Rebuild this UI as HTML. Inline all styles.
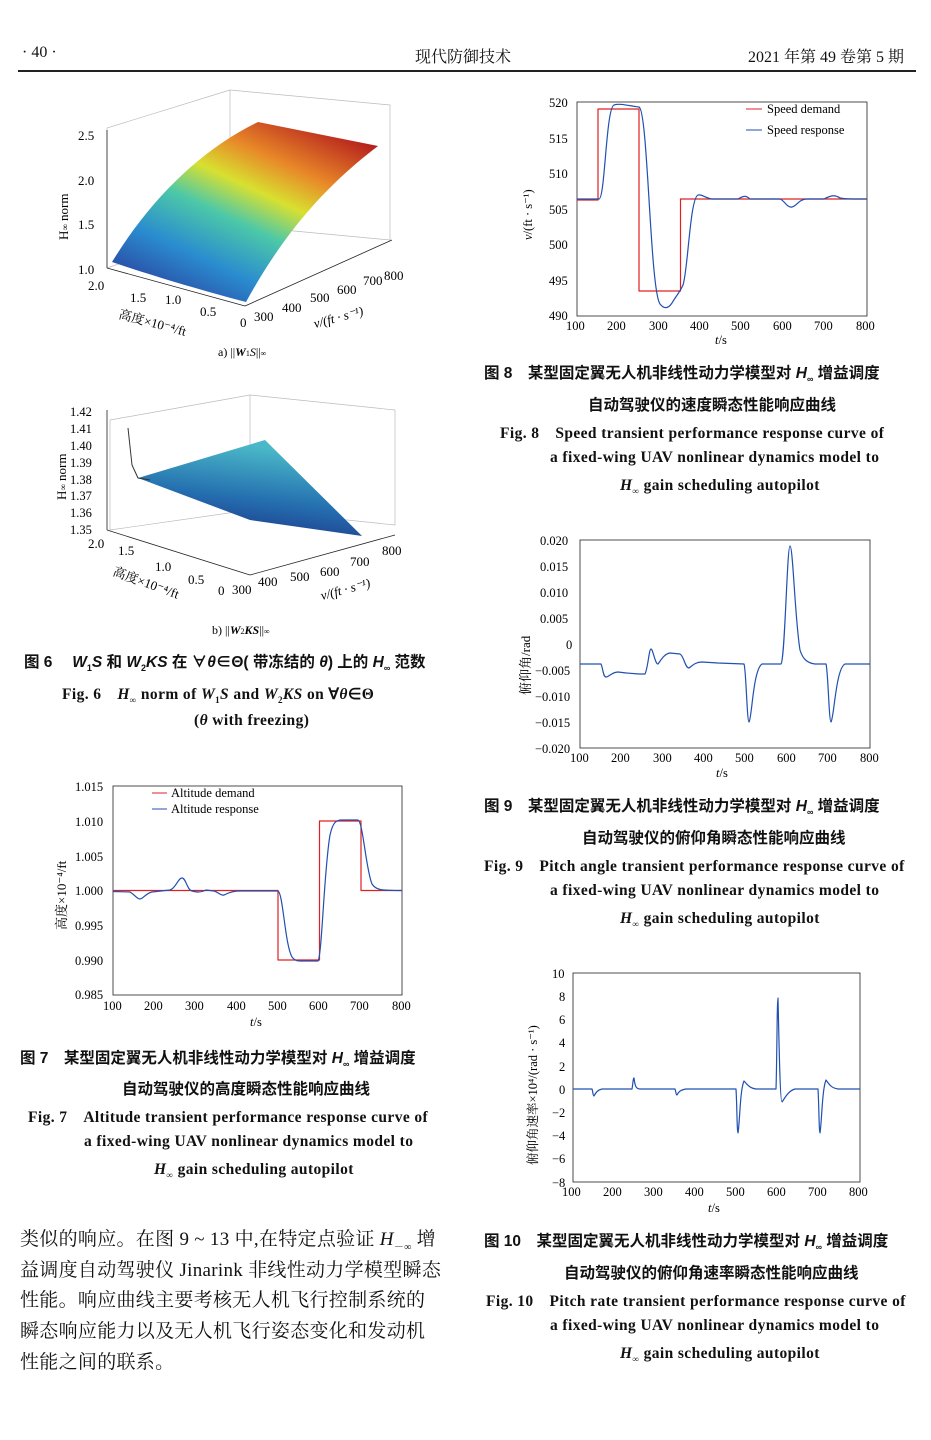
<!DOCTYPE html>
<html><head><meta charset="utf-8">
<style>
body{margin:0;background:#fff;width:931px;height:1440px;position:relative;overflow:hidden;font-family:"Liberation Serif","Noto Serif CJK SC",serif;color:#111}
.t{position:absolute;white-space:nowrap}
.cz{font-family:"Liberation Sans","Noto Sans CJK SC",sans-serif;font-size:15.5px;font-weight:bold}
.ce{font-family:"Liberation Serif",serif;font-size:15.5px;font-weight:bold;letter-spacing:0.4px}
.bd{font-family:"Liberation Serif","Noto Serif CJK SC",serif;font-size:19px;letter-spacing:0.3px}
svg text{font-family:"Liberation Serif","Noto Serif CJK SC",serif}
svg path{stroke-linejoin:round}
</style></head><body>
<div class="t" style="left:22px;top:44px;font-size:16px">· 40 ·</div>
<div class="t" style="left:415px;top:44px;font-size:16px">现代防御技术</div>
<div class="t" style="left:748px;top:44px;font-size:16px">2021 年第 49 卷第 5 期</div>
<div style="position:absolute;left:18px;top:70px;width:898px;border-top:2px solid #222"></div>

<svg width="931" height="1440" style="position:absolute;left:0;top:0" font-size="13">
<defs>
<linearGradient id="g1" x1="0.15" y1="1" x2="0.85" y2="0">
<stop offset="0" stop-color="#2a3a9a"/><stop offset="0.25" stop-color="#2a8ccf"/><stop offset="0.45" stop-color="#4cc8a8"/><stop offset="0.6" stop-color="#d8e030"/><stop offset="0.75" stop-color="#e88828"/><stop offset="1" stop-color="#b0141c"/></linearGradient>
<linearGradient id="g2" x1="0" y1="1" x2="0.3" y2="0">
<stop offset="0" stop-color="#1a2a80"/><stop offset="0.5" stop-color="#2570b0"/><stop offset="1" stop-color="#4ab8c8"/></linearGradient>
</defs>
<!-- Fig 6a -->
<g stroke="#bbb" stroke-width="0.7" fill="none">
<path d="M107,128 L230,90 L390,105 L390,240 L230,225 L107,268 Z"/>
<path d="M230,90 L230,225"/>
</g>
<path d="M112,262 C150,200 200,150 258,122 L378,146 C320,190 280,240 246,302 C200,290 150,275 112,262 Z" fill="url(#g1)"/>
<g stroke="#222" stroke-width="0.8" fill="none"><path d="M107,130 L107,268 M107,268 L245,306 L392,240"/></g>
<text x="78" y="140" font-size="13">2.5</text><text x="78" y="185">2.0</text><text x="78" y="229">1.5</text><text x="78" y="274">1.0</text>
<text x="68" y="240" transform="rotate(-90 68 240)" font-size="13">H<tspan font-size="9">∞</tspan> norm</text>
<text x="88" y="290">2.0</text><text x="130" y="302">1.5</text><text x="165" y="304">1.0</text><text x="200" y="316">0.5</text><text x="240" y="327">0</text>
<text x="254" y="321">300</text><text x="282" y="312">400</text><text x="310" y="302">500</text><text x="337" y="294">600</text><text x="363" y="285">700</text><text x="384" y="280">800</text>
<text x="118" y="318" transform="rotate(15 118 318)">高度×10⁻⁴/ft</text>
<text x="315" y="328" transform="rotate(-15 315 328)" font-style="italic">v/(ft · s⁻¹)</text>
<text x="218" y="356" font-size="12">a) ||<tspan font-weight="bold" font-style="italic">W</tspan><tspan font-size="8">1</tspan><tspan font-style="italic">S</tspan>||<tspan font-size="8">∞</tspan></text>
<!-- Fig 6b -->
<g stroke="#bbb" stroke-width="0.7" fill="none">
<path d="M110,420 L250,395 L395,410 L395,525 L250,510 L110,530 Z"/>
<path d="M250,395 L250,510"/>
</g>
<polygon points="138,478 265,440 362,536 250,520" fill="url(#g2)"/>
<path d="M128,428 L132,465 L138,478 L150,480" stroke="#333" fill="none"/>
<g stroke="#222" stroke-width="0.8" fill="none"><path d="M107,410 L107,530 M107,530 L250,575 L395,535"/></g>
<g font-size="12.5"><text x="70" y="416">1.42</text><text x="70" y="433">1.41</text><text x="70" y="450">1.40</text><text x="70" y="467">1.39</text><text x="70" y="484">1.38</text><text x="70" y="500">1.37</text><text x="70" y="517">1.36</text><text x="70" y="534">1.35</text></g>
<text x="66" y="500" transform="rotate(-90 66 500)">H<tspan font-size="9">∞</tspan> norm</text>
<text x="88" y="548">2.0</text><text x="118" y="555">1.5</text><text x="155" y="571">1.0</text><text x="188" y="584">0.5</text><text x="218" y="595">0</text>
<text x="232" y="594">300</text><text x="258" y="586">400</text><text x="290" y="581">500</text><text x="320" y="576">600</text><text x="350" y="566">700</text><text x="382" y="555">800</text>
<text x="112" y="575" transform="rotate(20 112 575)">高度×10⁻⁴/ft</text>
<text x="322" y="600" transform="rotate(-15 322 600)" font-style="italic">v/(ft · s⁻¹)</text>
<text x="212" y="634" font-size="12">b) ||<tspan font-weight="bold" font-style="italic">W</tspan><tspan font-size="8">2</tspan><tspan font-weight="bold" font-style="italic">KS</tspan>||<tspan font-size="8">∞</tspan></text>

<!-- Fig 7 -->
<rect x="113" y="786" width="289" height="209" fill="none" stroke="#222" stroke-width="0.8"/>
<g font-size="12.5">
<text x="75" y="791">1.015</text><text x="75" y="826">1.010</text><text x="75" y="861">1.005</text><text x="75" y="895">1.000</text><text x="75" y="930">0.995</text><text x="75" y="965">0.990</text><text x="75" y="999">0.985</text>
<text x="103" y="1010">100</text><text x="144" y="1010">200</text><text x="185" y="1010">300</text><text x="227" y="1010">400</text><text x="268" y="1010">500</text><text x="309" y="1010">600</text><text x="350" y="1010">700</text><text x="392" y="1010">800</text>
<text x="250" y="1026" font-style="italic">t<tspan font-style="normal">/s</tspan></text>
</g>
<text x="66" y="930" transform="rotate(-90 66 930)" font-size="13">高度×10⁻⁴/ft</text>
<path d="M113,890.5 H278 V960 H319.5 V821 H361 V890.5 H402" stroke="#e02020" fill="none" stroke-width="1.2"/>
<path d="M113,891.5 L130,892 C135,895 137,899 140,899 C143,899 146,893 152,892 L170,890 C176,888 178,878 182,878 C186,878 187,890 192,891 C196,892 200,893 206,890 L214,891 C218,892 221,896 224,895 C227,894 230,891 240,891 L278,891 C283,893 285,945 292,957 C295,961 298,961 302,961 L318,961 C322,955 324,870 330,835 C333,822 336,820 342,820 L358,820 C363,822 366,870 372,884 C376,890 380,890.5 402,890.5" stroke="#2050b0" fill="none" stroke-width="1.2"/>
<line x1="152" y1="793" x2="167" y2="793" stroke="#e02020"/><text x="171" y="797" font-size="12.5">Altitude demand</text>
<line x1="152" y1="809" x2="167" y2="809" stroke="#2050b0"/><text x="171" y="813" font-size="12.5">Altitude response</text>

<!-- Fig 8 -->
<rect x="577" y="102" width="290" height="214" fill="none" stroke="#222" stroke-width="0.8"/>
<g font-size="12.5">
<text x="549" y="107">520</text><text x="549" y="143">515</text><text x="549" y="178">510</text><text x="549" y="214">505</text><text x="549" y="249">500</text><text x="549" y="285">495</text><text x="549" y="320">490</text>
<text x="566" y="330">100</text><text x="607" y="330">200</text><text x="649" y="330">300</text><text x="690" y="330">400</text><text x="731" y="330">500</text><text x="773" y="330">600</text><text x="814" y="330">700</text><text x="856" y="330">800</text>
<text x="715" y="344" font-style="italic">t<tspan font-style="normal">/s</tspan></text>
</g>
<text x="532" y="240" transform="rotate(-90 532 240)" font-size="12.5"><tspan font-style="italic">v</tspan>/(ft · s⁻¹)</text>
<path d="M577,200 H598 V109 H639 V291 H680.5 V199 H867" stroke="#e02020" fill="none" stroke-width="1.2"/>
<path d="M577,199 L599,199 C605,199 606,108 614,105 C620,103 630,106 639,107 C648,110 650,290 660,304 C664,309 668,309 672,303 C676,296 680,292 683,285 C688,270 690,198 698,195 C702,194 705,198 712,199 L738,199 C743,196 746,195 750,199 L780,199 C785,201 787,208 792,207 C797,206 798,200 806,199 L824,199 C830,196 834,194 840,198 C844,199 850,199 867,199" stroke="#2050b0" fill="none" stroke-width="1.2"/>
<line x1="746" y1="109" x2="762" y2="109" stroke="#e02020"/><text x="767" y="113" font-size="12.5">Speed demand</text>
<line x1="746" y1="130" x2="762" y2="130" stroke="#2050b0"/><text x="767" y="134" font-size="12.5">Speed response</text>

<!-- Fig 9 -->
<rect x="580" y="540" width="290" height="208" fill="none" stroke="#222" stroke-width="0.8"/>
<g font-size="12.5">
<text x="540" y="545">0.020</text><text x="540" y="571">0.015</text><text x="540" y="597">0.010</text><text x="540" y="623">0.005</text><text x="566" y="649">0</text><text x="535" y="675">−0.005</text><text x="535" y="701">−0.010</text><text x="535" y="727">−0.015</text><text x="535" y="753">−0.020</text>
<text x="570" y="762">100</text><text x="611" y="762">200</text><text x="653" y="762">300</text><text x="694" y="762">400</text><text x="735" y="762">500</text><text x="777" y="762">600</text><text x="818" y="762">700</text><text x="860" y="762">800</text>
<text x="716" y="777" font-style="italic">t<tspan font-style="normal">/s</tspan></text>
</g>
<text x="530" y="695" transform="rotate(-90 530 695)" font-size="13">俯仰角/rad</text>
<path d="M580,664 L601,664 C603,668 603,677 606,677 C609,677 612,672 618,672 C625,673 635,674 645,674 C648,668 649,649 651,649 C653,649 655,664 658,664 C661,660 664,654 670,653 L680,654 C684,656 685,668 689,668 C692,666 695,662 702,662 L718,663 L744,664 C746,668 747,722 749,722 C752,718 753,670 762,664 L781,664 C785,660 787,546 790,546 C793,546 795,620 800,650 C803,660 808,663 815,664 L826,664 C828,670 829,722 831,722 C834,718 836,668 845,664 L870,664" stroke="#2050b0" fill="none" stroke-width="1.2"/>

<!-- Fig 10 -->
<rect x="573" y="973" width="287" height="209" fill="none" stroke="#222" stroke-width="0.8"/>
<g font-size="12.5">
<text x="552" y="978">10</text><text x="559" y="1001">8</text><text x="559" y="1024">6</text><text x="559" y="1047">4</text><text x="559" y="1071">2</text><text x="559" y="1094">0</text><text x="552" y="1117">−2</text><text x="552" y="1140">−4</text><text x="552" y="1163">−6</text><text x="552" y="1187">−8</text>
<text x="562" y="1196">100</text><text x="603" y="1196">200</text><text x="644" y="1196">300</text><text x="685" y="1196">400</text><text x="726" y="1196">500</text><text x="767" y="1196">600</text><text x="808" y="1196">700</text><text x="849" y="1196">800</text>
<text x="708" y="1212" font-style="italic">t<tspan font-style="normal">/s</tspan></text>
</g>
<text x="537" y="1165" transform="rotate(-90 537 1165)" font-size="12.5">俯仰角速率×10⁴/(rad · s⁻¹)</text>
<path d="M573,1089 L592,1089 C593,1092 593,1096 594,1096 C596,1092 598,1090 602,1089 L632,1089 C633,1084 633,1078 634,1078 C635,1086 636,1089 640,1089 L675,1089 C676,1092 676,1095 677,1095 C679,1091 681,1090 686,1089 L736,1089 C737,1105 737,1133 738,1133 C740,1120 740,1090 744,1081 C747,1084 749,1088 756,1089 L776,1089 C777,1060 777,998 778,998 C779,1040 780,1102 782,1102 C785,1098 788,1091 795,1089 L818,1089 C819,1105 819,1133 820,1133 C822,1120 822,1090 826,1080 C829,1084 831,1088 838,1089 L860,1089" stroke="#2050b0" fill="none" stroke-width="1.2"/>
</svg>

<div class="t cz" style="left:24px;top:650px">图 6　 <i>W</i><sub style="font-size:9px">1</sub><i>S</i> 和 <i>W</i><sub style="font-size:9px">2</sub><i>KS</i> 在 ∀<i>θ</i>∈Θ( 带冻结的 <i>θ</i>) 上的 <i>H</i><sub style="font-size:9px">∞</sub> 范数</div>
<div class="t ce" style="left:62px;top:682px">Fig. 6　<i>H</i><sub style="font-size:9px">∞</sub> norm of <i>W</i><sub style="font-size:9px">1</sub><i>S</i> and <i>W</i><sub style="font-size:9px">2</sub><i>KS</i> on ∀<i>θ</i>∈Θ</div>
<div class="t ce" style="left:194px;top:712px">(<i>θ</i> with freezing)</div>

<div class="t cz" style="left:20px;top:1046px">图 7　某型固定翼无人机非线性动力学模型对 <i>H</i><sub style="font-size:9px">∞</sub> 增益调度</div>
<div class="t cz" style="left:122px;top:1077px">自动驾驶仪的高度瞬态性能响应曲线</div>
<div class="t ce" style="left:28px;top:1105px">Fig. 7　Altitude transient performance response curve of</div>
<div class="t ce" style="left:84px;top:1133px">a fixed-wing UAV nonlinear dynamics model to</div>
<div class="t ce" style="left:154px;top:1161px"><i>H</i><sub style="font-size:9px">∞</sub> gain scheduling autopilot</div>

<div class="t cz" style="left:484px;top:361px">图 8　某型固定翼无人机非线性动力学模型对 <i>H</i><sub style="font-size:9px">∞</sub> 增益调度</div>
<div class="t cz" style="left:588px;top:393px">自动驾驶仪的速度瞬态性能响应曲线</div>
<div class="t ce" style="left:500px;top:421px">Fig. 8　Speed transient performance response curve of</div>
<div class="t ce" style="left:550px;top:449px">a fixed-wing UAV nonlinear dynamics model to</div>
<div class="t ce" style="left:620px;top:477px"><i>H</i><sub style="font-size:9px">∞</sub> gain scheduling autopilot</div>

<div class="t cz" style="left:484px;top:794px">图 9　某型固定翼无人机非线性动力学模型对 <i>H</i><sub style="font-size:9px">∞</sub> 增益调度</div>
<div class="t cz" style="left:582px;top:826px">自动驾驶仪的俯仰角瞬态性能响应曲线</div>
<div class="t ce" style="left:484px;top:854px">Fig. 9　Pitch angle transient performance response curve of</div>
<div class="t ce" style="left:550px;top:882px">a fixed-wing UAV nonlinear dynamics model to</div>
<div class="t ce" style="left:620px;top:910px"><i>H</i><sub style="font-size:9px">∞</sub> gain scheduling autopilot</div>

<div class="t cz" style="left:484px;top:1229px">图 10　某型固定翼无人机非线性动力学模型对 <i>H</i><sub style="font-size:9px">∞</sub> 增益调度</div>
<div class="t cz" style="left:564px;top:1261px">自动驾驶仪的俯仰角速率瞬态性能响应曲线</div>
<div class="t ce" style="left:486px;top:1289px">Fig. 10　Pitch rate transient performance response curve of</div>
<div class="t ce" style="left:550px;top:1317px">a fixed-wing UAV nonlinear dynamics model to</div>
<div class="t ce" style="left:620px;top:1345px"><i>H</i><sub style="font-size:9px">∞</sub> gain scheduling autopilot</div>

<div class="t bd" style="left:20px;top:1224px">类似的响应。在图 9 ~ 13 中,在特定点验证 <i>H</i><sub style="font-size:10px">－∞</sub> 增</div>
<div class="t bd" style="left:20px;top:1255px">益调度自动驾驶仪 Jinarink 非线性动力学模型瞬态</div>
<div class="t bd" style="left:20px;top:1285px">性能。响应曲线主要考核无人机飞行控制系统的</div>
<div class="t bd" style="left:20px;top:1316px">瞬态响应能力以及无人机飞行姿态变化和发动机</div>
<div class="t bd" style="left:20px;top:1347px">性能之间的联系。</div>
</body></html>
